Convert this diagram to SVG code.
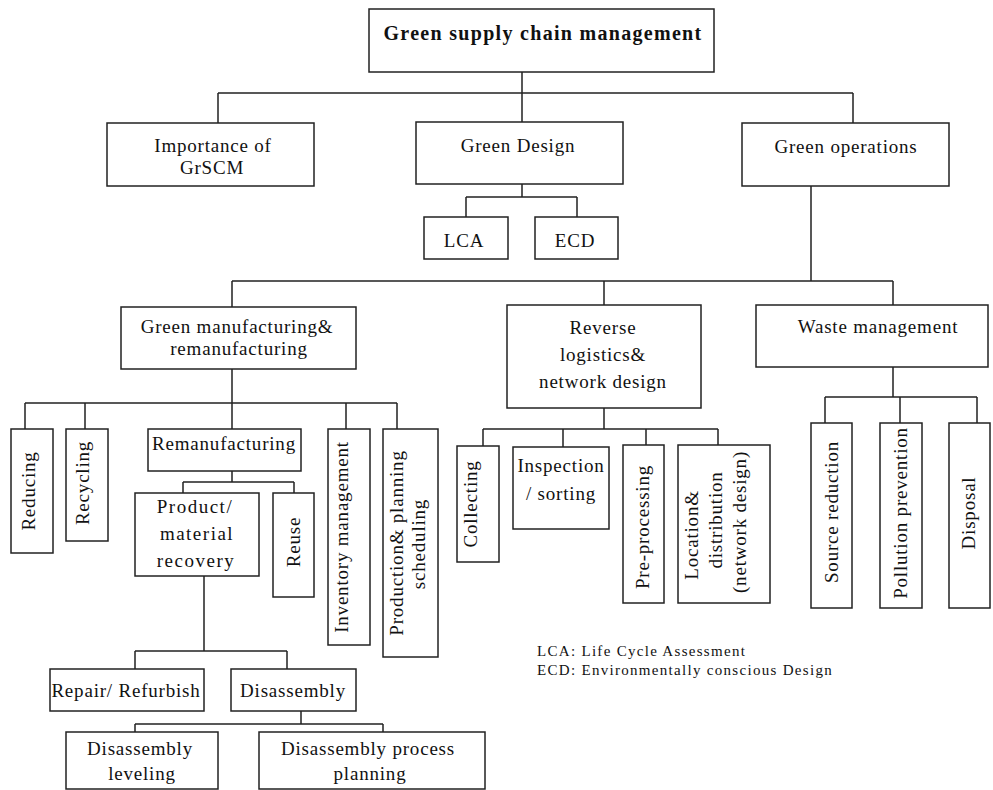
<svg xmlns="http://www.w3.org/2000/svg" width="993" height="790" viewBox="0 0 993 790">
<style>
.b{fill:#fff;stroke:#222;stroke-width:1.5}
.c{fill:none;stroke:#222;stroke-width:1.5}
.t{font-family:"Liberation Serif","Times New Roman",serif;font-size:19px;letter-spacing:0.8px;fill:#111;text-anchor:middle}
.h{font-family:"Liberation Serif","Times New Roman",serif;font-size:20px;font-weight:bold;letter-spacing:1.3px;fill:#111;text-anchor:middle}
.l{font-family:"Liberation Serif","Times New Roman",serif;font-size:15px;letter-spacing:1.3px;fill:#111}
</style>
<rect width="993" height="790" fill="#fff"/>
<g id="connectors">
<path class="c" d="M522,72V93M218,93H853M218,93V123M522,93V122M853,93V123M522,184V197M466,197H577M466,197V217M577,197V217M811,186V281M232,281H893M232,281V307M604,281V305M893,281V305M232,369V403M25,403H397M25,403V429M85,403V429M232,403V429M346,403V429M397,403V429M232,471V482M183,482H294M183,482V493M294,482V493M204,576V651M135,651H287M135,651V669M287,651V669M301,711V724M135,724H383M135,724V732M383,724V732M604,408V429M483,429H718M483,429V446M563,429V447M646,429V445M718,429V445M893,367V397M825,397H977M825,397V423M900,397V423M977,397V423"/>
</g>
<g id="gscm"><rect class="b" x="369" y="9" width="345" height="63"/><text class="h" x="543" y="40">Green supply chain management</text></g>
<g id="importance"><rect class="b" x="107" y="123" width="207" height="63"/><text class="t" x="213" y="152">Importance of</text><text class="t" x="212" y="174">GrSCM</text></g>
<g id="green-design"><rect class="b" x="416" y="122" width="207" height="62"/><text class="t" x="518" y="152">Green Design</text></g>
<g id="lca"><rect class="b" x="424" y="217" width="84" height="42"/><text class="t" x="464" y="247">LCA</text></g>
<g id="ecd"><rect class="b" x="535" y="217" width="83" height="42"/><text class="t" x="575" y="247">ECD</text></g>
<g id="green-operations"><rect class="b" x="742" y="123" width="207" height="63"/><text class="t" x="846" y="153">Green operations</text></g>
<g id="green-manufacturing"><rect class="b" x="121" y="307" width="235" height="62"/><text class="t" x="237" y="333">Green manufacturing&amp;</text><text class="t" x="239" y="355">remanufacturing</text></g>
<g id="reverse-logistics"><rect class="b" x="507" y="305" width="194" height="103"/><text class="t" x="603" y="334">Reverse</text><text class="t" x="603" y="361">logistics&amp;</text><text class="t" x="603" y="388">network design</text></g>
<g id="waste-management"><rect class="b" x="756" y="305" width="232" height="62"/><text class="t" x="878" y="333">Waste management</text></g>
<g id="reducing"><rect class="b" x="11" y="429" width="42" height="124"/><text class="t" transform="translate(35,491) rotate(-90)">Reducing</text></g>
<g id="recycling"><rect class="b" x="66" y="429" width="42" height="112"/><text class="t" transform="translate(89,483) rotate(-90)">Recycling</text></g>
<g id="remanufacturing"><rect class="b" x="148" y="429" width="153" height="42"/><text class="t" x="224" y="450">Remanufacturing</text></g>
<g id="inventory"><rect class="b" x="328" y="429" width="42" height="216"/><text class="t" transform="translate(348,537) rotate(-90)">Inventory management</text></g>
<g id="production"><rect class="b" x="383" y="429" width="55" height="228"/><text class="t" transform="translate(403,543) rotate(-90)">Production&amp; planning</text><text class="t" transform="translate(425,544) rotate(-90)">scheduling</text></g>
<g id="product-recovery"><rect class="b" x="135" y="493" width="124" height="83"/><text class="t" x="195" y="513" style="letter-spacing:1.5px">Product/</text><text class="t" x="197" y="540" style="letter-spacing:1.5px">material</text><text class="t" x="196" y="567" style="letter-spacing:1.5px">recovery</text></g>
<g id="reuse"><rect class="b" x="273" y="493" width="41" height="104"/><text class="t" transform="translate(300,542) rotate(-90)">Reuse</text></g>
<g id="repair"><rect class="b" x="50" y="669" width="154" height="42"/><text class="t" x="126" y="697">Repair/ Refurbish</text></g>
<g id="disassembly"><rect class="b" x="231" y="669" width="125" height="42"/><text class="t" x="293" y="697">Disassembly</text></g>
<g id="disassembly-leveling"><rect class="b" x="66" y="732" width="152" height="57"/><text class="t" x="140" y="755">Disassembly</text><text class="t" x="142" y="780">leveling</text></g>
<g id="disassembly-planning"><rect class="b" x="259" y="732" width="226" height="57"/><text class="t" x="368" y="755">Disassembly process</text><text class="t" x="370" y="780">planning</text></g>
<g id="collecting"><rect class="b" x="457" y="446" width="42" height="116"/><text class="t" transform="translate(477,504) rotate(-90)">Collecting</text></g>
<g id="inspection"><rect class="b" x="513" y="447" width="96" height="82"/><text class="t" x="561" y="472">Inspection</text><text class="t" x="561" y="500">/ sorting</text></g>
<g id="pre-processing"><rect class="b" x="623" y="445" width="41" height="158"/><text class="t" transform="translate(649,527) rotate(-90)">Pre-processing</text></g>
<g id="location"><rect class="b" x="678" y="445" width="92" height="158"/><text class="t" transform="translate(698,535) rotate(-90)">Location&amp;</text><text class="t" transform="translate(722,520) rotate(-90)">distribution</text><text class="t" transform="translate(746,522) rotate(-90)">(network design)</text></g>
<g id="source-reduction"><rect class="b" x="811" y="423" width="41" height="185"/><text class="t" transform="translate(838,512) rotate(-90)">Source reduction</text></g>
<g id="pollution-prevention"><rect class="b" x="880" y="423" width="42" height="185"/><text class="t" transform="translate(907,513) rotate(-90)">Pollution prevention</text></g>
<g id="disposal"><rect class="b" x="949" y="423" width="41" height="185"/><text class="t" transform="translate(975,513) rotate(-90)">Disposal</text></g>
<g id="legend"><text class="l" x="537" y="656">LCA: Life Cycle Assessment</text><text class="l" x="537" y="675">ECD: Environmentally conscious Design</text></g>
</svg>
